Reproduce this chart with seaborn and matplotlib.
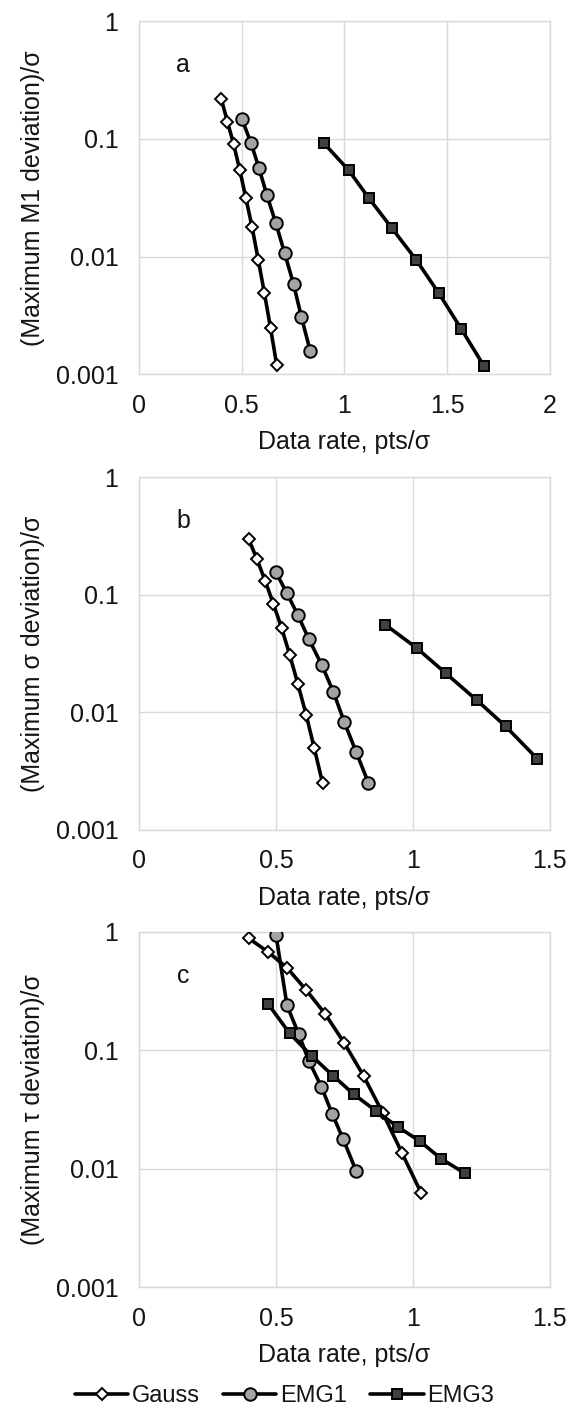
import numpy as np
import pandas as pd
import matplotlib
matplotlib.use("Agg")
import matplotlib.pyplot as plt
import seaborn as sns
from matplotlib.ticker import NullLocator

# ---------------- data ----------------
series_names = ["Gauss", "EMG1", "EMG3"]

# panel a : maximum M1 deviation
gauss_a_x = [0.40, 0.43, 0.46, 0.49, 0.52, 0.55, 0.58, 0.61, 0.64, 0.67]
gauss_a_y = [0.217, 0.140, 0.090, 0.0545, 0.0313, 0.0178, 0.0094, 0.0049, 0.00247, 0.0012]
emg1_a_x = [0.50, 0.544, 0.583, 0.622, 0.666, 0.708, 0.752, 0.79, 0.833]
emg1_a_y = [0.148, 0.093, 0.057, 0.0334, 0.0192, 0.0108, 0.00586, 0.00309, 0.00159]
emg3_a_x = [0.90, 1.02, 1.12, 1.23, 1.35, 1.46, 1.57, 1.68]
emg3_a_y = [0.092, 0.0545, 0.0313, 0.0176, 0.0094, 0.0049, 0.00243, 0.00118]

# panel b : maximum sigma deviation
gauss_b_x = [0.40, 0.43, 0.46, 0.49, 0.52, 0.55, 0.58, 0.61, 0.64, 0.67]
gauss_b_y = [0.297, 0.202, 0.132, 0.084, 0.0527, 0.0309, 0.0174, 0.00957, 0.00495, 0.00251]
emg1_b_x = [0.50, 0.54, 0.58, 0.62, 0.667, 0.71, 0.75, 0.793, 0.838]
emg1_b_y = [0.155, 0.103, 0.0672, 0.042, 0.0254, 0.0149, 0.00822, 0.00461, 0.00251]
emg3_b_x = [0.90, 1.015, 1.12, 1.235, 1.34, 1.455]
emg3_b_y = [0.0556, 0.0352, 0.0216, 0.01265, 0.0076, 0.00404]

# panel c : maximum tau deviation
gauss_c_x = [0.40, 0.47, 0.54, 0.61, 0.68, 0.75, 0.82, 0.89, 0.96, 1.03]
gauss_c_y = [0.885, 0.681, 0.499, 0.324, 0.203, 0.115, 0.061, 0.0297, 0.0137, 0.0063]
emg1_c_x = [0.50, 0.54, 0.583, 0.62, 0.666, 0.705, 0.746, 0.793]
emg1_c_y = [0.94, 0.241, 0.137, 0.0816, 0.0492, 0.0293, 0.0177, 0.0096]
emg3_c_x = [0.47, 0.55, 0.63, 0.71, 0.785, 0.865, 0.945, 1.025, 1.105, 1.19]
emg3_c_y = [0.249, 0.139, 0.090, 0.0607, 0.0425, 0.0309, 0.0226, 0.0172, 0.0121, 0.0092]

panel_letters = ["a", "b", "c"]
y_labels = ["(Maximum M1 deviation)/σ", "(Maximum σ deviation)/σ", "(Maximum τ deviation)/σ"]
x_label = "Data rate, pts/σ"
y_ticks = [0.001, 0.01, 0.1, 1]
y_ticklabels = ["0.001", "0.01", "0.1", "1"]
x_ticks_a = [0, 0.5, 1, 1.5, 2]
x_ticklabels_a = ["0", "0.5", "1", "1.5", "2"]
x_ticks_bc = [0, 0.5, 1, 1.5]
x_ticklabels_bc = ["0", "0.5", "1", "1.5"]

panels = [
    [(gauss_a_x, gauss_a_y), (emg1_a_x, emg1_a_y), (emg3_a_x, emg3_a_y)],
    [(gauss_b_x, gauss_b_y), (emg1_b_x, emg1_b_y), (emg3_b_x, emg3_b_y)],
    [(gauss_c_x, gauss_c_y), (emg1_c_x, emg1_c_y), (emg3_c_x, emg3_c_y)],
]
x_tick_sets = [(x_ticks_a, x_ticklabels_a), (x_ticks_bc, x_ticklabels_bc), (x_ticks_bc, x_ticklabels_bc)]

# ---------------- style ----------------
sns.set_theme(style="white")
plt.rcParams["font.family"] = ["Liberation Sans", "DejaVu Sans"]
FS = 18
FS_LEG = 17
GRID = "#d9d9d9"
TXT = "#141414"

styles = {
    "Gauss": dict(marker="D", markersize=6.0, markerfacecolor="white"),
    "EMG1": dict(marker="o", markersize=9.0, markerfacecolor="#a3a3a3"),
    "EMG3": dict(marker="s", markersize=7.0, markerfacecolor="#404040"),
}

fig = plt.figure(figsize=(5.69, 14.07), dpi=100)
left = 139.3 / 569
width = (549.5 - 139.3) / 569
positions = [(0.7339, 0.2510), (0.4101, 0.2507), (0.0851, 0.2525)]

axes = []
for i, (bottom, height) in enumerate(positions):
    ax = fig.add_axes([left, bottom, width, height])
    axes.append(ax)
    for k, (name, (xs, ys)) in enumerate(zip(series_names, panels[i])):
        df = pd.DataFrame({"x": xs, "y": ys})
        sns.lineplot(data=df, x="x", y="y", ax=ax, sort=False, estimator=None,
                     color="black", linewidth=2.6, markeredgecolor="black",
                     markeredgewidth=1.4, label=name, zorder=3 + k,
                     legend=False, **styles[name])
    if ax.get_legend() is not None:
        ax.get_legend().remove()
    ax.set_yscale("log")
    ax.set_ylim(0.001, 1)
    ax.set_yticks(y_ticks, y_ticklabels)
    ax.yaxis.set_minor_locator(NullLocator())
    xt, xtl = x_tick_sets[i]
    ax.set_xlim(xt[0], xt[-1])
    ax.set_xticks(xt, xtl)
    ax.grid(True, which="major", color=GRID, linewidth=1.0)
    ax.set_axisbelow(True)
    for sp in ax.spines.values():
        sp.set_color(GRID)
        sp.set_linewidth(1.0)
    ax.tick_params(axis="y", length=0, pad=15, labelsize=FS, labelcolor=TXT)
    ax.tick_params(axis="x", length=0, pad=14, labelsize=FS, labelcolor=TXT)
    ax.set_ylabel(y_labels[i], fontsize=FS, labelpad=8, color=TXT)
    ax.set_xlabel(x_label, fontsize=FS, labelpad=9, color=TXT)
    ax.text(0.107, 0.876, panel_letters[i], transform=ax.transAxes,
            ha="center", va="center", fontsize=FS, color=TXT)

handles = axes[2].get_lines()[:3]
fig.legend(handles, series_names, loc="center", bbox_to_anchor=(0.5, 1 - 1396 / 1407),
           ncol=3, frameon=False, fontsize=FS_LEG, handlelength=2.25,
           handletextpad=0.15, columnspacing=1.0, labelcolor=TXT)

fig.savefig("out.png", dpi=100)
